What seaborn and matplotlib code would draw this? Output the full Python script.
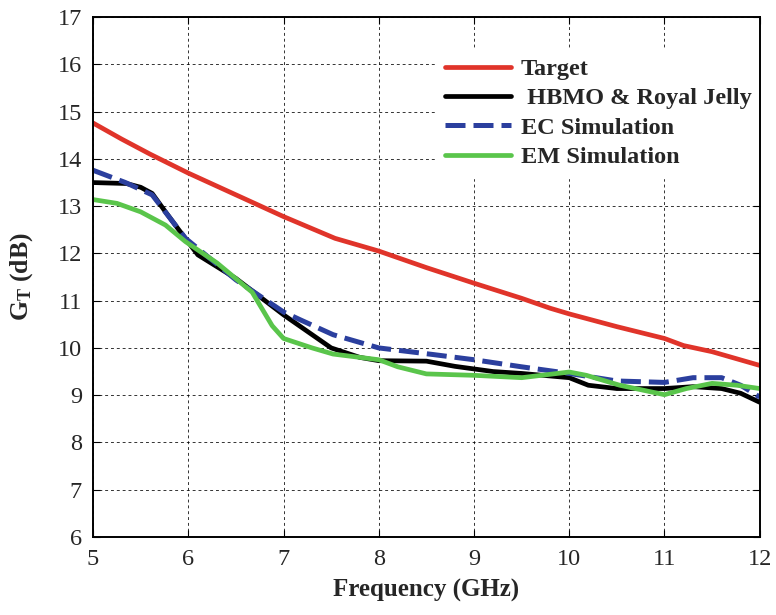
import pandas as pd
import matplotlib.pyplot as plt
import seaborn as sns

# ----------------------------------------------------------
# Data
# ----------------------------------------------------------

target_x = [5.0, 5.3, 5.6, 6.0, 6.5, 7.0, 7.54, 8.0, 8.5, 9.0, 9.5, 9.8,
            10.0, 10.5, 11.0, 11.2, 11.5, 12.0]
target_y = [14.76, 14.42, 14.1, 13.7, 13.24, 12.78, 12.32, 12.05, 11.7,
            11.37, 11.05, 10.84, 10.72, 10.45, 10.2, 10.05, 9.92, 9.63]

hbmo_x = [5.0, 5.35, 5.5, 5.62, 5.76, 5.9, 6.1, 6.5, 7.0, 7.25, 7.5, 7.8, 8.0,
          8.5, 8.8, 9.2, 9.5, 10.0, 10.2, 10.5, 11.0, 11.3, 11.6, 11.8, 12.0]
hbmo_y = [13.5, 13.48, 13.4, 13.27, 12.88, 12.5, 11.97, 11.47, 10.7, 10.35,
          10.0, 9.8, 9.73, 9.72, 9.61, 9.5, 9.46, 9.37, 9.21, 9.14, 9.14,
          9.18, 9.14, 9.04, 8.85]

ec_x = [5.0, 5.34, 5.62, 5.97, 6.5, 7.0, 7.17, 7.52, 8.0, 8.57, 9.0, 9.5,
        10.0, 10.5, 11.0, 11.3, 11.6, 11.8, 12.0]
ec_y = [13.76, 13.5, 13.24, 12.32, 11.44, 10.76, 10.6, 10.28, 10.0, 9.86,
        9.75, 9.6, 9.46, 9.3, 9.27, 9.37, 9.37, 9.21, 8.96]

em_x = [5.0, 5.25, 5.5, 5.76, 5.97, 6.3, 6.67, 6.88, 7.0, 7.3, 7.52, 8.0,
        8.2, 8.5, 9.0, 9.5, 10.0, 10.18, 10.53, 11.0, 11.23, 11.5, 11.76, 12.0]
em_y = [13.14, 13.06, 12.88, 12.6, 12.25, 11.8, 11.18, 10.47, 10.2, 10.0,
        9.87, 9.75, 9.6, 9.45, 9.42, 9.37, 9.49, 9.42, 9.21, 9.01, 9.14,
        9.25, 9.21, 9.14]

# ----------------------------------------------------------
# Style
# ----------------------------------------------------------

sns.set_style("white")
plt.rcParams["font.family"] = ["Liberation Serif", "DejaVu Serif"]
plt.rcParams["mathtext.fontset"] = "custom"
plt.rcParams["mathtext.rm"] = "Liberation Serif"
plt.rcParams["mathtext.bf"] = "Liberation Serif:bold"

fig = plt.figure(figsize=(7.76, 6.15), dpi=100)
ax = fig.add_axes([0.12, 0.127, 0.859, 0.845])

# ----------------------------------------------------------
# Lines
# ----------------------------------------------------------

sns.lineplot(x=target_x, y=target_y, ax=ax, color="#e0342a", lw=3.4,
             label="Target")
sns.lineplot(x=hbmo_x, y=hbmo_y, ax=ax, color="black", lw=3.4,
             label=" HBMO & Royal Jelly")
sns.lineplot(x=ec_x, y=ec_y, ax=ax, color="#2b3f9e", lw=3.6,
             label="EC Simulation")
ax.lines[-1].set_dashes([4, 1.6])
sns.lineplot(x=em_x, y=em_y, ax=ax, color="#5ac54b", lw=3.4,
             label="EM Simulation")

# ----------------------------------------------------------
# Axes
# ----------------------------------------------------------

ax.set_xlim(5, 12)
ax.set_ylim(6, 17)
ax.set_xticks(range(5, 13))
ax.set_yticks(range(6, 18))
ax.grid(True, color="black", linestyle=(0, (3, 3)), linewidth=0.7, alpha=0.8)
ax.tick_params(direction="in", length=5, width=0.8, labelsize=17.5,
               top=True, right=True, bottom=True, left=True, color="black")
ax.tick_params(axis="x", pad=9)
ax.tick_params(axis="y", pad=8)
for s in ax.spines.values():
    s.set_color("black")
    s.set_linewidth(1.4)

ax.set_xlabel("Frequency (GHz)", fontsize=18, fontweight="bold", labelpad=6)
ax.set_ylabel(r"$\mathbf{G_T}$ (dB)", fontsize=18.5, fontweight="bold",
              labelpad=16)

leg = ax.legend(loc="upper left", bbox_to_anchor=(0.514, 0.940),
                borderaxespad=0, frameon=True, fancybox=False, framealpha=1,
                edgecolor="white",
                prop={"family": "Liberation Serif", "weight": "bold",
                      "size": 17.5},
                handlelength=2.7, handletextpad=0.4, labelspacing=0.3,
                borderpad=0.4)
leg.set_zorder(2.4)  # keep the right spine visible over the legend box

plt.savefig("out.png", dpi=100)
